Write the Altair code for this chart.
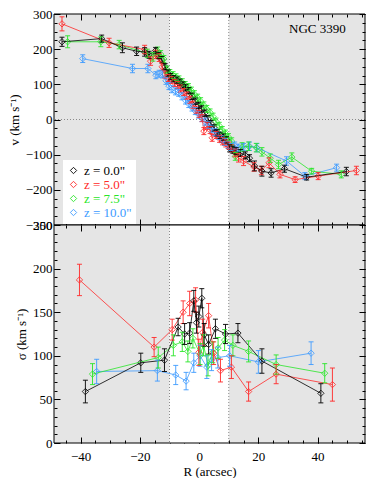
import json
import altair as alt
import pandas as pd

SERIES = ['z = 0.0"', 'z = 5.0"', 'z = 7.5"', 'z = 10.0"']
COLORS = ['#000000', '#ff2828', '#28e628', '#3d9bff']
PANEL_TITLE = 'NGC 3390'

# ---------------- top panel: velocity v (km/s) ----------------
v0_R = [-46.3, -32.9, -25.9, -21.1, -18.4, -16.9, -14.7, -13.6, -12.6, -11.5,
        -10.5, -9.6, -8.6, -7.5, -6.5, -5.5, -4.6, -3.5, -2.4, -1.3,
        -0.2, 0.8, 1.9, 3.0, 4.0, 5.1, 6.1, 7.1, 8.2, 9.3,
        10.3, 11.4, 12.5, 14.0, 15.6, 17.0, 18.7, 21.2, 24.3, 28.8,
        36.3, 49.7]
v0_v = [221, 230, 204, 194, 192, 184, 196, 182, 170, 150,
        132, 122, 116, 112, 106, 98, 90, 82, 66, 52,
        40, 30, 18, 2, -12, -24, -38, -45, -50, -58,
        -82, -86, -90, -95, -102, -110, -132, -147, -152, -140,
        -164, -148]
v0_e = [13, 10, 14, 12, 12, 10, 9, 9, 9, 9,
        9, 9, 9, 9, 9, 9, 9, 9, 9, 9,
        9, 9, 9, 9, 9, 9, 9, 9, 9, 9,
        10, 10, 10, 10, 10, 10, 14, 14, 12, 10,
        8, 12]

v5_R = [-46.3, -30.4, -18.4, -16.4, -14.6, -13.5, -12.5, -11.5, -10.4, -9.4,
        -8.3, -7.3, -6.3, -5.2, -4.2, -3.1, -2.1, -1.0, 0.0, 1.0,
        1.6, 2.7, 3.7, 4.4, 5.8, 6.9, 7.9, 9.0, 10.0, 11.0,
        12.1, 13.3, 15.0, 18.5, 21.0, 23.6, 27.3, 32.4, 40.2, 53.1]
v5_v = [272, 218, 199, 166, 185, 176, 150, 128, 118, 112,
        104, 98, 88, 78, 68, 56, 42, 28, 16, 4,
        -33, -18, -30, -52, -44, -55, -62, -68, -74, -82,
        -95, -109, -118, -135, -145, -123, -156, -171, -161, -145]
v5_e = [20, 13, 12, 12, 12, 11, 10, 10, 10, 10,
        10, 10, 10, 10, 10, 10, 10, 10, 10, 10,
        10, 10, 10, 10, 10, 10, 10, 10, 10, 10,
        11, 12, 13, 12, 12, 14, 10, 8, 10, 12]

v75_R = [-44.4, -33.2, -27.0, -17.5, -15.6, -14.0, -13.0, -11.9, -10.9, -9.9,
         -8.8, -7.8, -6.8, -5.7, -4.7, -3.6, -2.6, -1.6, -0.5, 0.5,
         1.6, 2.6, 3.7, 4.7, 5.7, 6.8, 7.8, 8.9, 9.9, 11.0,
         12.2, 14.5, 16.7, 19.3, 21.2, 24.0, 26.8, 31.3, 38.0, 48.0]
v75_v = [221, 221, 213, 188, 178, 195, 186, 172, 142, 132,
         126, 120, 114, 106, 98, 92, 82, 72, 62, 52,
         40, 30, 20, 8, -6, -18, -30, -40, -50, -62,
         -105, -78, -76, -80, -92, -110, -128, -107, -147, -156]
v75_e = [17, 14, 12, 12, 12, 11, 10, 10, 10, 10,
         10, 10, 10, 10, 10, 10, 10, 10, 10, 10,
         10, 10, 10, 10, 10, 10, 10, 10, 10, 10,
         11, 12, 12, 12, 12, 12, 12, 12, 8, 10]

v10_R = [-39.3, -22.5, -17.3, -14.6, -13.5, -12.4, -11.2, -10.2, -9.2, -8.0,
         -6.9, -5.8, -4.6, -3.5, -2.4, -1.3, -0.2, 0.9, 2.0, 3.1,
         4.2, 5.3, 6.4, 7.5, 8.6, 9.7, 10.8, 12.0, 13.2, 15.0,
         17.0, 19.5, 29.5, 35.7, 46.4]
v10_v = [173, 145, 145, 126, 130, 128, 110, 95, 86, 80,
         76, 66, 54, 44, 34, 24, 14, 4, -6, -16,
         -26, -36, -46, -56, -64, -72, -78, -74, -80, -78,
         -76, -80, -118, -161, -137]
v10_e = [11, 12, 12, 10, 10, 10, 10, 10, 10, 10,
         10, 10, 10, 10, 10, 10, 10, 10, 10, 10,
         10, 10, 10, 10, 10, 10, 10, 10, 10, 10,
         12, 12, 12, 10, 10]

# ---------------- bottom panel: dispersion sigma (km/s) ----------------
s0_R = [-38.4, -19.7, -11.7, -7.1, -4.9, -3.2, -1.8, -0.9, -0.1, 0.9, 1.7, 3.2, 5.5, 8.9, 13.1, 21.2, 41.1]
s0_s = [59, 92, 95, 133, 125, 126, 163, 138, 145, 166, 124, 113, 131, 125, 126, 94, 57]
s0_e = [13, 11, 13, 10, 12, 12, 12, 12, 12, 11, 13, 11, 11, 11, 11, 14, 11]

s5_R = [-40.4, -15.2, -9.1, -5.4, -3.2, -1.2, -0.1, 1.2, 3.2, 4.9, 7.2, 10.9, 16.7, 26.0, 45.0]
s5_s = [187, 110, 130, 150, 160, 164, 104, 127, 146, 103, 83, 87, 59, 79, 67]
s5_e = [18, 11, 12, 13, 14, 14, 15, 15, 14, 13, 13, 13, 11, 11, 19]

s75_R = [-36.0, -13.8, -8.7, -5.7, -3.8, -2.1, 0.3, 1.5, 3.0, 4.6, 6.4, 8.6, 11.4, 16.7, 26.0, 42.4]
s75_s = [79, 98, 112, 116, 105, 120, 102, 112, 89, 104, 109, 118, 112, 105, 90, 80]
s75_e = [12, 12, 12, 11, 12, 11, 12, 12, 12, 12, 12, 12, 12, 12, 11, 11]

s10_R = [-34.6, -14.1, -7.9, -4.4, -1.8, 0.3, 2.6, 4.2, 6.3, 10.3, 20.0, 37.8]
s10_s = [82, 83, 78, 71, 92, 100, 87, 95, 98, 100, 93, 103]
s10_e = [14, 12, 11, 10, 11, 12, 13, 12, 12, 12, 13, 13]

# ---------------- axes ----------------
X_DOMAIN = [-49, 56]
V_DOMAIN = [-300, 300]
S_DOMAIN = [0, 250]
X_MAJOR = [-40, -20, 0, 20, 40]
X_MINOR = list(range(-45, 56, 5))
V_MAJOR = [-300, -200, -100, 0, 100, 200, 300]
V_MINOR = list(range(-300, 301, 25))
S_MAJOR = [0, 50, 100, 150, 200, 250]
S_MINOR = list(range(0, 251, 10))
SHADE_EDGES = [-10, 10]
ZERO_LINE = [0]

W = 311
H_TOP = 211
H_BOT = 218
FONT = 'Liberation Serif'
MAJ = 6
MIN = 3


def build(groups, col):
    rows = []
    for name, Rs, vals, errs in groups:
        for r, v, e in zip(Rs, vals, errs):
            rows.append({'series': name, 'R': r, col: v, 'lo': v - e, 'hi': v + e})
    return pd.DataFrame(rows)


# draw order: blue, green, red, black (black on top)
df_v = build([(SERIES[3], v10_R, v10_v, v10_e), (SERIES[2], v75_R, v75_v, v75_e),
              (SERIES[1], v5_R, v5_v, v5_e), (SERIES[0], v0_R, v0_v, v0_e)], 'val')
df_s = build([(SERIES[3], s10_R, s10_s, s10_e), (SERIES[2], s75_R, s75_s, s75_e),
              (SERIES[1], s5_R, s5_s, s5_e), (SERIES[0], s0_R, s0_s, s0_e)], 'val')

label_color_expr = (json.dumps(COLORS) + "[indexof(" + json.dumps(SERIES) + ", datum.label)]")


def mk_axis(orient, values, size, labels=False, title=None, pad=3, tpad=4):
    kw = dict(orient=orient, values=values, tickSize=size, offset=-size, labels=labels,
              domain=False, grid=False, tickColor='black', tickWidth=1,
              labelFont=FONT, labelFontSize=13, labelColor='black', labelPadding=pad,
              titleFont=FONT, titleFontSize=13, titleColor='black', titleFontWeight='normal',
              titlePadding=tpad, minExtent=0)
    if not labels:
        kw['maxExtent'] = 0
    kw['title'] = title
    return alt.Axis(**kw)


def panel(df, ydom, ymaj, ymin, H, ytitle, xlabels, top):
    xs = alt.Scale(domain=X_DOMAIN, nice=False, zero=False)
    ys = alt.Scale(domain=ydom, nice=False, zero=False)
    cs = alt.Scale(domain=SERIES, range=COLORS)
    xe = alt.X('R:Q', scale=xs, axis=None)
    ye = alt.Y('val:Q', scale=ys, axis=None)
    layers = []
    edges = pd.DataFrame({'a': [SHADE_EDGES[0]], 'b': [SHADE_EDGES[1]]})
    layers.append(alt.Chart(edges).mark_rect(color='white').encode(
        x=alt.X('a:Q', scale=xs, axis=None), x2='b:Q', y=alt.value(0), y2=alt.value(H)))
    layers.append(alt.Chart(pd.DataFrame({'a': SHADE_EDGES})).mark_rule(
        color='#8a8a8a', strokeDash=[1, 2], strokeWidth=1).encode(x=alt.X('a:Q', scale=xs, axis=None)))
    if top:
        layers.append(alt.Chart(pd.DataFrame({'z': ZERO_LINE})).mark_rule(
            color='#8a8a8a', strokeDash=[1, 2], strokeWidth=1).encode(y=alt.Y('z:Q', scale=ys, axis=None)))
    if top:
        leg = alt.Legend(orient='none', legendX=9, legendY=146, title=None, symbolType='diamond',
                         symbolSize=40, symbolStrokeWidth=0.9, symbolFillColor='white',
                         labelFont=FONT, labelFontSize=13, labelColor=alt.ExprRef(label_color_expr),
                         fillColor='white', padding=4, rowPadding=-2, labelOffset=4)
        col = alt.Color('series:N', scale=cs, legend=leg)
    else:
        col = alt.Color('series:N', scale=cs, legend=None)
    base = alt.Chart(df)
    # hollow diamonds first (their legend symbol drives the merged legend)
    layers.append(base.mark_point(shape='diamond', size=40, filled=False,
                                  strokeWidth=0.8, opacity=1).encode(x=xe, y=ye, color=col))
    layers.append(base.mark_line(strokeWidth=0.8).encode(x=xe, y=ye, color=col, detail='series:N'))
    layers.append(base.mark_rule(strokeWidth=0.9).encode(
        x=xe, y=alt.Y('lo:Q', scale=ys, axis=None), y2='hi:Q', color=col))
    # error-bar caps as short horizontal stroke symbols (unfilled)
    for f in ['lo', 'hi']:
        layers.append(base.mark_point(shape='stroke', size=25, filled=False, strokeWidth=0.9,
                                      opacity=1).encode(
            x=xe, y=alt.Y(f + ':Q', scale=ys, axis=None), color=col))
    # axis-only layers (ticks inside on all 4 sides)
    specs = [
        (mk_axis('bottom', X_MAJOR, MAJ, labels=xlabels, title=('R (arcsec)' if xlabels else None), pad=7, tpad=2),
         mk_axis('left', ymaj, MAJ, labels=True, title=ytitle, pad=2, tpad=4)),
        (mk_axis('bottom', X_MINOR, MIN), mk_axis('left', ymin, MIN)),
        (mk_axis('top', X_MAJOR, MAJ), mk_axis('right', ymaj, MAJ)),
        (mk_axis('top', X_MINOR, MIN), mk_axis('right', ymin, MIN)),
    ]
    for xa, ya in specs:
        layers.append(base.mark_point(opacity=0, size=1).encode(
            x=alt.X('R:Q', scale=xs, axis=xa), y=alt.Y('val:Q', scale=ys, axis=ya)))
    if top:
        layers.append(alt.Chart(pd.DataFrame({'t': [PANEL_TITLE]})).mark_text(
            align='left', baseline='middle', font=FONT, fontSize=13, color='black').encode(
            x=alt.value(235), y=alt.value(15), text='t:N'))
    layers.append(alt.Chart(pd.DataFrame({'a': [0]})).mark_rect(
        filled=False, stroke='black', strokeWidth=1).encode(
        x=alt.value(0), x2=alt.value(W), y=alt.value(0), y2=alt.value(H)))
    return alt.layer(*layers).resolve_axis(x='independent', y='independent').properties(width=W, height=H)


top = panel(df_v, V_DOMAIN, V_MAJOR, V_MINOR, H_TOP, 'v (km s\u207b\u00b9)', False, True)
bot = panel(df_s, S_DOMAIN, S_MAJOR, S_MINOR, H_BOT, '\u03c3 (km s\u207b\u00b9)', True, False)

chart = alt.vconcat(top, bot, spacing=0, bounds='flush').properties(
    padding={'left': 0, 'top': 0, 'right': 0, 'bottom': 0}
).configure_view(stroke=None, fill='#e5e5e5')

chart.save("out.html", embed_options={"renderer": "svg", "actions": False})
